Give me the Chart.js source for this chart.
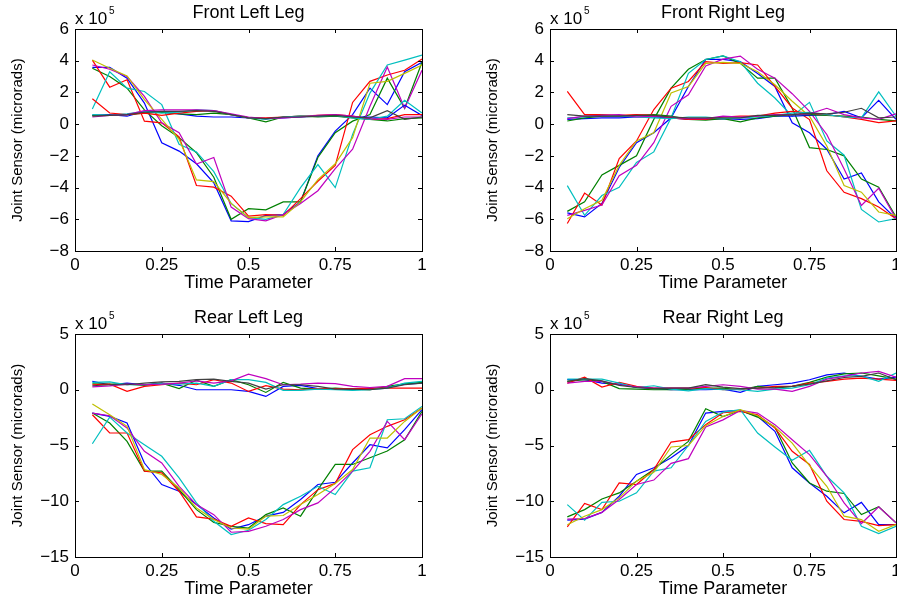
<!DOCTYPE html>
<html>
<head>
<meta charset="utf-8">
<script src="https://cdn.jsdelivr.net/npm/chart.js@4.4.1/dist/chart.umd.min.js"></script>
<style>
  html, body { margin: 0; padding: 0; background: #fff; overflow: hidden; width: 897px; height: 602px; }
  canvas { position: absolute; }
</style>
</head>
<body>
<canvas id="frontLeft" style="left:0;top:0" width="448" height="301"></canvas>
<canvas id="frontRight" style="left:449px;top:0" width="470" height="301"></canvas>
<canvas id="rearLeft" style="left:0;top:301px" width="448" height="301"></canvas>
<canvas id="rearRight" style="left:449px;top:301px" width="470" height="301"></canvas>
<script>
// values are in units of 1e5 microrads (matlab "x 10^5" axis multiplier)
const timeParam = [0.05, 0.1, 0.15, 0.2, 0.25, 0.3, 0.35, 0.4, 0.45, 0.5,
                   0.55, 0.6, 0.65, 0.7, 0.75, 0.8, 0.85, 0.9, 0.95, 1.0];
const xTicks = [0, 0.25, 0.5, 0.75, 1];
const yTicksFront = [-8, -6, -4, -2, 0, 2, 4, 6];
const yTicksRear = [-15, -10, -5, 0, 5];

// matlab default colour order
const swingColors = ['#0000ff', '#008000', '#ff0000', '#00bfbf', '#bf00bf', '#bfbf00'];
const flatColors = ['#0000ff', '#008000', '#ff0000', '#00bfbf', '#bf00bf', '#404040'];

// front left: big swing (b g r c m y)
const frontLeftSwing = [
  [3.58, 3.58, 2.9, 1.33, -1.17, -1.7, -2.5, -3.7, -6.1, -6.15, -5.75, -5.7, -4.9, -2.0, -0.44, 0.6, 2.27, 1.23, 3.3, 3.9],
  [3.52, 3.0, 2.27, 0.9, -0.1, -0.85, -1.8, -3.35, -6.0, -5.33, -5.4, -4.9, -4.9, -2.1, -0.54, 0.19, 0.6, 2.9, 1.0, 3.9],
  [4.04, 2.33, 2.8, 0.19, 0.08, -0.8, -3.87, -3.97, -4.54, -5.8, -5.7, -5.75, -4.7, -3.6, -2.6, 1.37, 2.7, 3.1, 3.4, 4.1],
  [0.96, 3.3, 2.27, 2.06, 1.23, -1.27, -1.75, -3.0, -5.0, -5.9, -6.0, -5.7, -4.0, -2.55, -4.0, -0.65, 1.96, 3.73, 4.04, 4.35],
  [3.73, 3.46, 3.0, 1.75, 0.08, -0.54, -2.52, -2.1, -5.23, -5.96, -6.1, -5.7, -5.0, -4.2, -2.8, -1.58, 1.13, 3.6, 1.0, 3.4],
  [4.04, 3.52, 3.04, 1.54, 0.3, -0.96, -3.52, -3.62, -5.0, -5.9, -5.85, -5.85, -4.9, -3.5, -2.5, -0.85, 2.58, 2.7, 3.2, 3.73]
];
// front left: near zero (b g r c m k)
const frontLeftFlat = [
  [0.55, 0.6, 0.5, 0.8, 0.75, 0.65, 0.5, 0.45, 0.45, 0.4, 0.35, 0.4, 0.45, 0.5, 0.5, 0.45, 0.45, 0.4, 1.2, 0.55],
  [0.55, 0.55, 0.6, 0.7, 0.75, 0.65, 0.6, 0.7, 0.6, 0.4, 0.15, 0.45, 0.5, 0.45, 0.5, 0.4, 0.3, 0.2, 0.35, 0.4],
  [1.6, 0.7, 0.6, 0.7, 0.55, 0.7, 0.8, 0.85, 0.6, 0.4, 0.4, 0.45, 0.5, 0.55, 0.6, 0.5, 0.3, 0.35, 0.6, 0.6],
  [0.6, 0.55, 0.65, 0.8, 0.7, 0.75, 0.9, 0.85, 0.6, 0.4, 0.3, 0.45, 0.5, 0.5, 0.55, 0.4, 0.3, 0.5, 1.5, 0.7],
  [0.45, 0.55, 0.6, 0.85, 0.9, 0.9, 0.9, 0.85, 0.65, 0.45, 0.35, 0.4, 0.45, 0.55, 0.6, 0.5, 0.35, 0.3, 0.45, 0.45],
  [0.5, 0.55, 0.6, 0.75, 0.8, 0.8, 0.85, 0.8, 0.6, 0.4, 0.35, 0.45, 0.45, 0.5, 0.55, 0.45, 0.4, 0.85, 0.3, 0.45]
];

const frontRightSwing = [
  [-5.6, -5.85, -5.0, -2.73, -1.17, -0.54, 0.4, 2.375, 4.08, 4.08, 3.94, 3.2, 2.375, 0.08, -0.54, -1.58, -3.46, -3.08, -4.9, -5.96],
  [-5.5, -4.9, -3.2, -2.6, -2.0, 0.3, 2.27, 3.46, 4.08, 4.3, 3.83, 2.9, 2.9, 1.0, -1.48, -1.6, -2.0, -3.46, -3.98, -5.85],
  [-6.27, -4.35, -5.1, -2.17, -1.06, 0.92, 2.27, 2.69, 3.94, 3.83, 3.875, 3.73, 2.375, 1.02, 0.29, -2.94, -4.3, -4.7, -5.23, -5.96],
  [-3.875, -5.75, -4.5, -3.98, -2.42, -1.75, 0.4, 3.2, 4.08, 4.3, 3.94, 2.58, 1.65, 0.5, 1.375, -1.06, -1.96, -5.375, -6.17, -5.96],
  [-5.75, -5.44, -5.1, -3.25, -2.6, -1.17, 1.125, 1.85, 3.67, 4.1, 4.29, 3.46, 2.9, 1.92, 0.81, -0.65, -2.83, -5.125, -4.04, -5.96],
  [-5.96, -5.33, -4.8, -2.6, -1.06, -0.54, 1.96, 2.375, 3.83, 3.9, 3.83, 3.3, 2.48, 1.44, 0.5, -1.375, -3.875, -4.29, -5.54, -5.75]
];
const frontRightFlat = [
  [0.3, 0.35, 0.4, 0.4, 0.45, 0.45, 0.4, 0.3, 0.3, 0.35, 0.3, 0.35, 0.5, 0.5, 0.55, 0.6, 0.8, 0.4, 1.5, 0.3],
  [0.2, 0.4, 0.5, 0.5, 0.55, 0.6, 0.5, 0.3, 0.25, 0.35, 0.15, 0.4, 0.5, 0.6, 0.6, 0.55, 0.5, 0.45, 0.3, 0.2],
  [2.06, 0.6, 0.6, 0.55, 0.6, 0.55, 0.4, 0.3, 0.3, 0.45, 0.5, 0.5, 0.7, 0.8, 0.7, 0.6, 0.45, 0.3, 0.1, 0.2],
  [0.4, 0.45, 0.55, 0.5, 0.45, 0.4, 0.35, 0.45, 0.45, 0.35, 0.4, 0.45, 0.55, 0.7, 0.75, 0.6, 0.45, 0.4, 2.04, 0.5],
  [0.35, 0.5, 0.55, 0.6, 0.45, 0.5, 0.45, 0.35, 0.35, 0.5, 0.45, 0.5, 0.6, 0.6, 0.65, 1.0, 0.6, 0.4, 0.3, 0.65],
  [0.6, 0.5, 0.5, 0.5, 0.55, 0.55, 0.45, 0.4, 0.4, 0.4, 0.4, 0.55, 0.55, 0.6, 0.7, 0.65, 0.75, 1.0, 0.4, 0.45]
];

const rearLeftSwing = [
  [-2.09, -2.39, -2.98, -6.57, -8.5, -9.1, -10.3, -11.5, -12.5, -12.1, -11.34, -11.0, -9.85, -8.5, -8.3, -6.57, -4.93, -5.22, -3.58, -1.79],
  [-2.09, -2.98, -4.63, -7.3, -7.3, -8.96, -10.75, -11.9, -12.24, -12.4, -11.2, -10.6, -11.34, -8.96, -6.7, -6.7, -6.1, -5.5, -4.48, -1.94],
  [-2.24, -3.88, -3.88, -7.3, -7.46, -9.1, -11.4, -11.6, -12.24, -11.5, -12.0, -12.1, -10.3, -8.96, -8.4, -5.37, -4.03, -3.28, -2.69, -1.64],
  [-4.84, -2.45, -3.88, -4.93, -5.97, -7.9, -10.15, -11.8, -12.98, -12.6, -11.64, -10.3, -9.55, -8.66, -9.4, -7.3, -7.0, -2.69, -2.6, -1.49],
  [-2.09, -2.33, -3.43, -5.52, -6.57, -8.66, -10.3, -11.2, -12.78, -12.7, -12.24, -11.64, -10.75, -10.15, -8.8, -7.3, -5.52, -2.84, -4.48, -2.15],
  [-1.28, -2.24, -3.28, -7.16, -7.6, -8.8, -10.6, -11.64, -12.4, -12.5, -11.34, -11.28, -10.3, -9.4, -8.4, -7.16, -4.33, -4.33, -2.84, -1.64]
];
const rearLeftFlat = [
  [0.75, 0.45, 0.6, 0.45, 0.6, 0.4, 0.0, 0.0, 0.0, -0.15, -0.6, 0.3, 0.4, 0.1, 0.1, 0.0, 0.1, 0.2, 0.5, 0.6],
  [0.54, 0.5, 0.5, 0.4, 0.6, 0.1, 0.85, 0.3, 0.9, 0.45, -0.24, 0.66, 0.15, 0.06, 0.15, 0.06, 0.0, 0.3, 0.54, 0.66],
  [0.45, 0.5, -0.15, 0.3, 0.45, 0.6, 0.45, 0.9, 0.6, -0.15, 0.36, 0.06, 0.0, 0.1, 0.1, 0.1, 0.15, 0.15, 0.15, 0.15],
  [0.66, 0.7, 0.45, 0.45, 0.55, 0.5, 0.6, 0.3, 0.9, 0.9, 0.66, -0.06, -0.06, 0.06, 0.0, -0.06, 0.0, 0.15, 0.6, 0.75],
  [0.25, 0.35, 0.5, 0.45, 0.5, 0.6, 0.8, 0.6, 0.8, 1.4, 1.0, 0.45, 0.5, 0.6, 0.55, 0.3, 0.2, 0.3, 1.0, 1.0],
  [0.36, 0.45, 0.45, 0.6, 0.7, 0.75, 0.9, 0.95, 0.75, 0.6, 0.06, 0.45, 0.45, 0.3, 0.06, 0.06, 0.0, 0.15, 0.45, 0.6]
];

const rearRightSwing = [
  [-11.7, -11.6, -11.0, -9.55, -7.6, -7.0, -6.1, -5.0, -2.09, -1.94, -1.85, -2.39, -3.73, -7.0, -8.36, -9.55, -11.04, -10.1, -12.1, -12.1],
  [-11.4, -10.75, -9.8, -9.25, -8.2, -7.16, -5.82, -4.63, -1.7, -2.4, -1.85, -2.45, -3.34, -6.57, -8.36, -9.1, -9.3, -11.2, -10.5, -11.94],
  [-12.3, -10.2, -10.75, -8.36, -8.5, -7.16, -4.69, -4.48, -3.13, -2.06, -1.94, -2.24, -3.43, -5.52, -6.7, -10.0, -11.64, -11.8, -12.18, -12.1],
  [-10.3, -11.7, -10.1, -10.0, -9.25, -7.3, -7.0, -5.0, -2.84, -2.0, -1.79, -3.88, -5.13, -6.33, -5.43, -7.76, -9.25, -12.24, -12.9, -12.24],
  [-11.6, -11.55, -11.0, -9.85, -8.5, -8.1, -6.6, -6.18, -3.34, -2.7, -1.85, -2.09, -3.13, -4.48, -5.82, -7.76, -10.15, -12.0, -10.5, -11.94],
  [-12.1, -11.34, -10.75, -9.7, -8.2, -7.4, -5.13, -5.0, -3.22, -2.4, -1.79, -2.33, -3.34, -4.78, -6.8, -8.66, -11.34, -11.64, -12.7, -12.1]
];
const rearRightFlat = [
  [0.9, 0.9, 0.6, 0.5, 0.2, 0.1, 0.0, 0.0, 0.0, 0.05, -0.24, 0.3, 0.45, 0.6, 0.9, 1.34, 1.5, 1.2, 0.95, 1.13],
  [0.75, 0.9, 0.75, 0.1, 0.05, 0.0, 0.0, 0.05, 0.15, 0.15, 0.0, 0.3, 0.15, 0.3, 0.66, 1.13, 1.43, 1.5, 1.25, 0.95],
  [0.6, 1.13, 0.24, 0.66, 0.3, 0.15, 0.15, 0.15, 0.2, 0.0, 0.06, 0.15, 0.3, 0.3, 0.6, 0.75, 0.95, 1.04, 0.95, 0.84],
  [0.95, 0.95, 0.95, 0.6, 0.2, 0.36, 0.06, -0.1, 0.1, 0.0, 0.0, -0.15, 0.06, 0.15, 0.45, 1.04, 1.25, 1.25, 0.75, 1.5],
  [0.6, 0.75, 0.75, 0.45, 0.25, 0.15, 0.15, 0.15, 0.3, 0.45, 0.3, 0.06, 0.06, -0.15, 0.3, 0.95, 1.2, 1.5, 1.64, 1.13],
  [0.75, 1.0, 0.8, 0.4, 0.2, 0.1, 0.15, 0.15, 0.45, 0.24, 0.1, 0.15, 0.2, 0.3, 0.5, 0.8, 1.1, 1.2, 1.5, 0.9]
];

const FONT = '"Liberation Sans", Arial, Helvetica, sans-serif';
Chart.defaults.font.family = FONT;
Chart.defaults.color = '#000';

// matlab style box with inward ticks, title and exponent label
const matlabFrame = {
  id: 'matlabFrame',
  afterDraw(chart, args, opts) {
    const ctx = chart.ctx;
    const a = chart.chartArea;
    const xs = chart.scales.x, ys = chart.scales.y;
    ctx.save();
    ctx.strokeStyle = '#000';
    ctx.lineWidth = 1;
    ctx.strokeRect(Math.round(a.left) + 0.5, Math.round(a.top) + 0.5,
      Math.round(a.right) - Math.round(a.left), Math.round(a.bottom) - Math.round(a.top));
    ctx.beginPath();
    xs.ticks.forEach(t => {
      const px = Math.round(xs.getPixelForValue(t.value)) + 0.5;
      ctx.moveTo(px, a.bottom); ctx.lineTo(px, a.bottom - 4);
      ctx.moveTo(px, a.top); ctx.lineTo(px, a.top + 4);
    });
    ys.ticks.forEach(t => {
      const py = Math.round(ys.getPixelForValue(t.value)) + 0.5;
      ctx.moveTo(a.left, py); ctx.lineTo(a.left + 4, py);
      ctx.moveTo(a.right, py); ctx.lineTo(a.right - 4, py);
    });
    ctx.stroke();

    ctx.fillStyle = '#000';
    ctx.textBaseline = 'alphabetic';
    ctx.textAlign = 'center';
    ctx.font = '18px ' + FONT;
    ctx.fillText(opts.title, (a.left + a.right) / 2, a.top - 11.5);
    ctx.textAlign = 'left';
    ctx.font = '17px ' + FONT;
    ctx.fillText('x 10', a.left, a.top - 5.5);
    ctx.font = '10px ' + FONT;
    ctx.fillText('5', a.left + 34, a.top - 15.5);
    ctx.restore();
  }
};

function minusLabel(v) {
  return v < 0 ? '\u2212' + Math.abs(v) : String(v);
}

function makeChart(id, title, swing, flat, yTicks, box) {
  const datasets = [];
  swing.forEach((s, i) => datasets.push({
    data: timeParam.map((x, j) => ({ x: x, y: s[j] })),
    borderColor: swingColors[i], borderWidth: 1.2, pointRadius: 0, tension: 0, fill: false
  }));
  flat.forEach((s, i) => datasets.push({
    data: timeParam.map((x, j) => ({ x: x, y: s[j] })),
    borderColor: flatColors[i], borderWidth: 1.2, pointRadius: 0, tension: 0, fill: false
  }));
  // chart.js paints dataset 0 last; reverse so later lines sit on top like matlab
  datasets.reverse();

  new Chart(document.getElementById(id), {
    type: 'line',
    data: { datasets: datasets },
    options: {
      responsive: false,
      animation: false,
      events: [],
      layout: { autoPadding: false, padding: { left: 0, top: box.top, right: box.right, bottom: 0 } },
      plugins: { legend: { display: false }, tooltip: { enabled: false }, matlabFrame: { title: title } },
      scales: {
        x: {
          type: 'linear', min: 0, max: 1,
          afterBuildTicks: s => { s.ticks = xTicks.map(v => ({ value: v })); },
          afterFit: s => { s.height = box.xh; },
          grid: { display: false, drawTicks: false },
          border: { display: false },
          ticks: { padding: 4, maxRotation: 0, autoSkip: false, font: { size: 17 }, callback: v => String(v) },
          title: { display: true, text: 'Time Parameter', font: { size: 18 }, padding: { top: 0, bottom: box.xtp } }
        },
        y: {
          type: 'linear', min: yTicks[0], max: yTicks[yTicks.length - 1],
          afterBuildTicks: s => { s.ticks = yTicks.map(v => ({ value: v })); },
          afterFit: s => { s.width = box.left; },
          grid: { display: false, drawTicks: false },
          border: { display: false },
          ticks: { padding: 6, font: { size: 17 }, callback: minusLabel },
          title: { display: true, text: 'Joint Sensor (microrads)', font: { size: 15 }, padding: { top: box.ytp, bottom: 0 } }
        }
      }
    },
    plugins: [matlabFrame]
  });
}

makeChart('frontLeft', 'Front Left Leg', frontLeftSwing, frontLeftFlat, yTicksFront,
  { left: 75, top: 29, right: 26, xh: 50, xtp: 7, ytp: 9 });
makeChart('frontRight', 'Front Right Leg', frontRightSwing, frontRightFlat, yTicksFront,
  { left: 101, top: 29, right: 23, xh: 50, xtp: 7, ytp: 35 });
makeChart('rearLeft', 'Rear Left Leg', rearLeftSwing, rearLeftFlat, yTicksRear,
  { left: 75, top: 33, right: 26, xh: 45, xtp: 2.5, ytp: 9 });
makeChart('rearRight', 'Rear Right Leg', rearRightSwing, rearRightFlat, yTicksRear,
  { left: 101, top: 33, right: 23, xh: 45, xtp: 2.5, ytp: 35 });
</script>
</body>
</html>
